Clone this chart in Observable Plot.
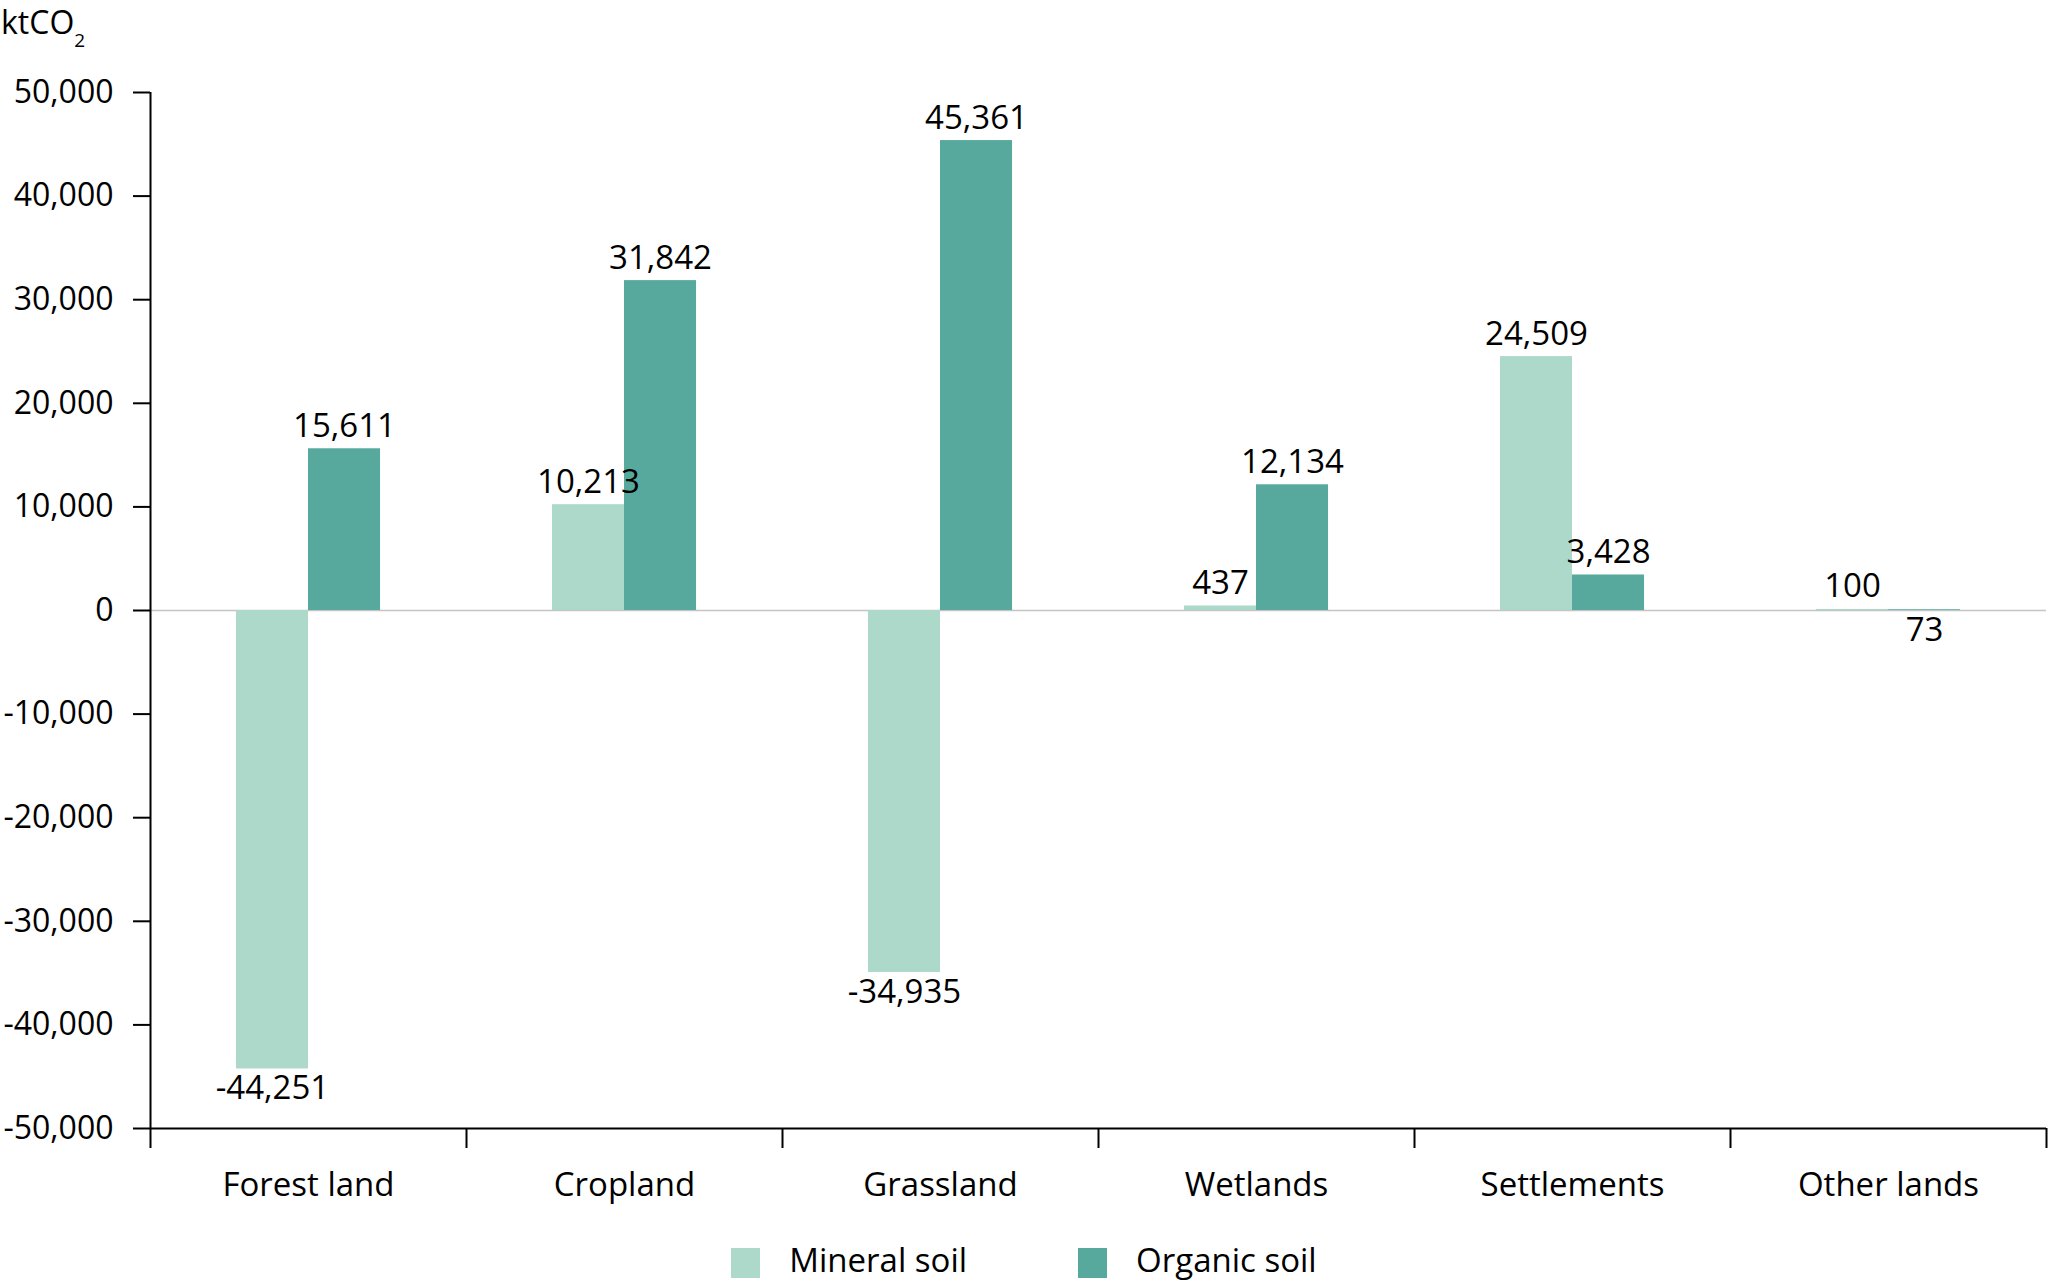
<!DOCTYPE html>
<html><head><meta charset="utf-8">
<script src="https://cdn.jsdelivr.net/npm/d3@7"></script>
<script src="https://cdn.jsdelivr.net/npm/@observablehq/plot@0.6"></script>
<style>
body{margin:0;background:#fff;font-family:"Open Sans",sans-serif;color:#000;}
#wrap{position:relative;width:2048px;height:1282px;overflow:hidden;}
#chart{position:absolute;left:0;top:0;}
#unit{position:absolute;left:1px;top:5px;font-size:32px;line-height:34px;white-space:nowrap;}
#unit .sub{font-size:19px;position:relative;top:13px;}
#legend{position:absolute;left:0;top:1248px;width:2048px;height:30px;display:flex;justify-content:center;align-items:center;font-size:33px;}
#legend .item{display:flex;align-items:center;height:30px;}
#legend .item + .item{margin-left:111px;}
#legend .sw{width:29px;height:30px;margin-right:29px;}
#legend .lbl{line-height:30px;position:relative;top:-3px;}
</style>
</head><body>
<div id="wrap">
  <div id="chart"></div>
  <div id="unit">ktCO<span class="sub">2</span></div>
  <div id="legend"></div>
</div>
<script>
const categories = ["Forest land","Cropland","Grassland","Wetlands","Settlements","Other lands"];
const series = ["Mineral soil","Organic soil"];
const mineralValues = [-44251, 10213, -34935, 437, 24509, 100];
const organicValues = [15611, 31842, 45361, 12134, 3428, 73];
const yTicks = [-50000,-40000,-30000,-20000,-10000,0,10000,20000,30000,40000,50000];
const colors = ["#acd9ca","#57a99d"];

const data = categories.flatMap((c,i)=>[
  {category:c, series:series[0], value:mineralValues[i]},
  {category:c, series:series[1], value:organicValues[i]}
]);

const fmt = d => d.toLocaleString("en-US");
const W=2048, H=1215, mL=150, mR=2, mT=92, mB=87;
const bw=(W-mL-mR)/categories.length;
const half=bw/2;
const barW=bw*0.228;
const FS=33;
// labels go below the bar for negative values and for near-zero organic values
const below = d => d.value < 0 || Math.abs(d.value) < 80;

const marks = [
  Plot.ruleY([0],{stroke:"#c4c4c4",strokeWidth:1.5})
];
const textMarks = [];
series.forEach((s,k)=>{
  const sub = data.filter(d=>d.series===s);
  const off = k===0 ? -barW/2 : barW/2;
  marks.push(Plot.barY(sub,{x:"category",y1:0,y2:"value",fill:"series",
    insetLeft: k===0 ? half-barW : half, insetRight: k===0 ? half : half-barW}));
  textMarks.push(Plot.text(sub.filter(d=>!below(d)),{x:"category",y:"value",text:d=>fmt(d.value),dx:off,dy:-12,lineAnchor:"bottom",fontSize:FS,fill:"#000"}));
  textMarks.push(Plot.text(sub.filter(d=>below(d)),{x:"category",y:d=>Math.min(0,d.value),text:d=>fmt(d.value),dx:off,dy:7,lineAnchor:"top",fontSize:FS,fill:"#000"}));
});
marks.push(...textMarks);
marks.push(
  Plot.ruleY([-50000],{stroke:"#000",strokeWidth:2}),
  Plot.ruleX([categories[0]],{dx:-half,stroke:"#000",strokeWidth:2}),
  Plot.ruleX(categories,{dx:-half,insetTop:H-mT-mB,insetBottom:-20,stroke:"#000",strokeWidth:2}),
  Plot.ruleX([categories[categories.length-1]],{dx:half,insetTop:H-mT-mB,insetBottom:-20,stroke:"#000",strokeWidth:2}),
  Plot.axisY({ticks:yTicks,tickSize:17,tickPadding:20,tickFormat:fmt,fontSize:32,strokeWidth:2,stroke:"#000",label:null}),
  Plot.axisX({tickSize:0,tickPadding:44,fontSize:FS,label:null})
);

const chart = Plot.plot({
  width:W,height:H,marginLeft:mL,marginRight:mR,marginTop:mT,marginBottom:mB,
  style:{fontFamily:"'Open Sans', sans-serif",fontSize:FS+"px",color:"#000",background:"#fff",overflow:"visible"},
  x:{domain:categories,padding:0,label:null},
  y:{domain:[-50000,50000],label:null},
  color:{domain:series,range:colors},
  marks
});
document.getElementById("chart").appendChild(chart);

const legend = document.getElementById("legend");
series.forEach((s,i)=>{
  const it=document.createElement("div"); it.className="item";
  const sw=document.createElement("div"); sw.className="sw"; sw.style.background=colors[i];
  const lb=document.createElement("span"); lb.className="lbl"; lb.textContent=s;
  it.appendChild(sw); it.appendChild(lb); legend.appendChild(it);
});
</script>
</body></html>
